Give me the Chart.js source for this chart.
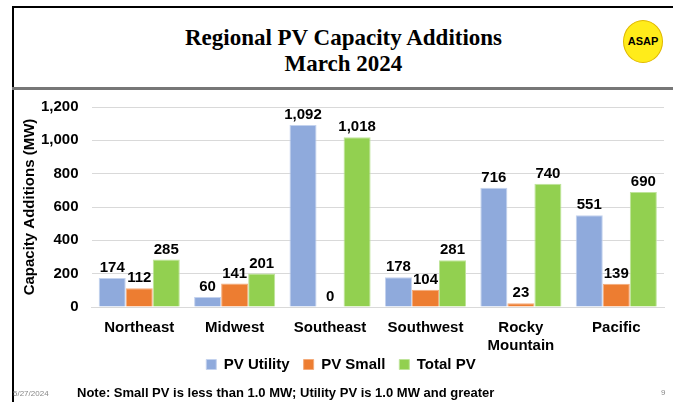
<!DOCTYPE html>
<html>
<head>
  <title>Regional PV Capacity Additions</title>
  <script src="https://cdn.jsdelivr.net/npm/chart.js"></script>
  <style>
    html, body { margin: 0; padding: 0; background: #fff; }
    body { width: 673px; height: 402px; position: relative; overflow: hidden; font-family: "Liberation Sans", Arial, sans-serif; }
    .frame-top { position: absolute; left: 12px; top: 6px; width: 661px; height: 2px; background: #000; }
    .frame-left { position: absolute; left: 12px; top: 6px; width: 2px; height: 396px; background: #000; }
    .frame-mid { position: absolute; left: 12px; top: 87px; width: 661px; height: 3px; background: #777; }
    .title { position: absolute; left: 14px; width: 659px; top: 25px; text-align: center;
             font-family: "Liberation Serif", "Times New Roman", serif; font-weight: bold; font-size: 23px; line-height: 26px; color: #000; }
    .logo { position: absolute; left: 623px; top: 20px; width: 38px; height: 41px; border-radius: 50%;
            background: #ffec1a; border: 1px solid #e0b800; text-align: center; line-height: 41px;
            font-weight: bold; font-size: 11px; color: #000; }
    .chartbox { position: absolute; left: 14px; top: 85px; width: 659px; height: 321px; }
    .date { position: absolute; left: 13px; top: 389px; font-size: 8px; color: #888; }
    .note { position: absolute; left: 77px; top: 385px; font-size: 13px; font-weight: bold; color: #000; }
    .page { position: absolute; left: 661px; top: 388px; font-size: 8px; color: #888; }
  </style>
</head>
<body>
  <div class="frame-top"></div>
  <div class="frame-left"></div>
  <div class="frame-mid"></div>
  <div class="title">Regional PV Capacity Additions<br>March 2024</div>
  <div class="logo">ASAP</div>

  <div class="chartbox"><canvas id="pvChart" width="659" height="321"></canvas></div>

  <div class="date">5/27/2024</div>
  <div class="note">Note: Small PV is less than 1.0 MW; Utility PV is 1.0 MW and greater</div>
  <div class="page">9</div>

  <script>
    const regions = ['Northeast', 'Midwest', 'Southeast', 'Southwest', ['Rocky', 'Mountain'], 'Pacific'];
    const pvUtility = [174, 60, 1092, 178, 716, 551];
    const pvSmall = [112, 141, 0, 104, 23, 139];
    const totalPV = [285, 201, 1018, 281, 740, 690];
    const yTicks = [0, 200, 400, 600, 800, 1000, 1200];

    const fontBold = { family: '"Liberation Sans", Arial, sans-serif', weight: 'bold', size: 15 };

    // draw the value above each bar
    const barLabels = {
      id: 'barLabels',
      afterDatasetsDraw(chart) {
        const ctx = chart.ctx;
        ctx.save();
        ctx.font = 'bold 15px "Liberation Sans", Arial, sans-serif';
        ctx.fillStyle = '#000';
        ctx.textAlign = 'center';
        ctx.textBaseline = 'alphabetic';
        chart.data.datasets.forEach((ds, i) => {
          chart.getDatasetMeta(i).data.forEach((bar, j) => {
            ctx.fillText(ds.data[j].toLocaleString('en-US'), bar.x, bar.y - 6);
          });
        });
        ctx.restore();
      }
    };

    // legend sits tight under the two-line category labels
    const legendUp = {
      id: 'legendUp',
      afterLayout(chart) {
        chart.legend.top -= 24;
        chart.legend.bottom -= 24;
      }
    };

    new Chart(document.getElementById('pvChart'), {
      type: 'bar',
      data: {
        labels: regions,
        datasets: [
          { label: 'PV Utility', data: pvUtility, backgroundColor: '#8faadc', borderColor: '#c3d2ee', borderWidth: 1 },
          { label: 'PV Small', data: pvSmall, backgroundColor: '#ed7d31', borderColor: '#f4ab7a', borderWidth: 1 },
          { label: 'Total PV', data: totalPV, backgroundColor: '#92d050', borderColor: '#bfe49a', borderWidth: 1 }
        ]
      },
      options: {
        responsive: false,
        animation: false,
        layout: { padding: { top: 3, right: 9, left: 4, bottom: 0 } },
        datasets: {
          bar: { categoryPercentage: 0.85, barPercentage: 1 }
        },
        plugins: {
          legend: {
            position: 'bottom',
            labels: { boxWidth: 10, boxHeight: 10, padding: 14, color: '#000', font: fontBold }
          },
          tooltip: { enabled: false }
        },
        scales: {
          x: {
            grid: { display: false, drawTicks: false },
            border: { color: '#d9d9d9' },
            ticks: { color: '#000', font: fontBold, maxRotation: 0, padding: 12 }
          },
          y: {
            min: 0,
            max: 1200,
            afterBuildTicks(axis) { axis.ticks = yTicks.map(v => ({ value: v })); },
            grid: { color: '#d9d9d9', drawTicks: false },
            border: { display: false },
            ticks: { color: '#000', font: fontBold, padding: 13,
                     callback: v => v.toLocaleString('en-US') },
            title: { display: true, text: 'Capacity Additions (MW)', color: '#000', font: fontBold,
                     padding: { top: 3, bottom: -11 } }
          }
        }
      },
      plugins: [barLabels, legendUp]
    });
  </script>
</body>
</html>
